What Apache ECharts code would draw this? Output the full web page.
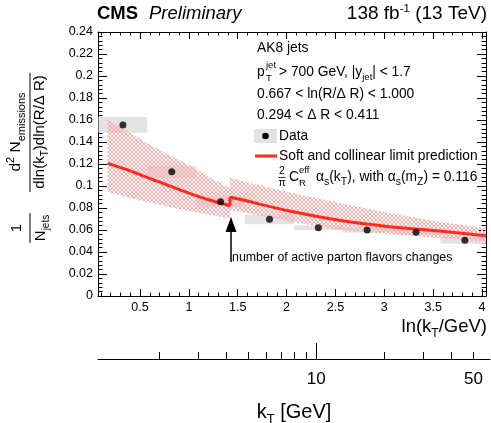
<!DOCTYPE html>
<html lang="en">
<head>
<meta charset="UTF-8">
<title>CMS Lund plane slice</title>
<script src="https://cdn.jsdelivr.net/npm/echarts@6.0.0/dist/echarts.min.js"></script>
<style>
    html, body { margin: 0; padding: 0; background: #fff; }
    #chart { width: 491px; height: 423px; }
</style>
</head>
<body>
<div id="chart"></div>
<script type="text/javascript">
// values
var binLo   = [0.075, 0.575, 1.075, 1.575, 2.075, 2.575, 3.075, 3.575];
var binHi   = [0.575, 1.075, 1.575, 2.075, 2.575, 3.075, 3.575, 4.075];
var dataX   = [0.325, 0.825, 1.325, 1.825, 2.325, 2.825, 3.325, 3.825];
var dataY   = [0.1555, 0.113, 0.0857, 0.0697, 0.0621, 0.0600, 0.0579, 0.0506];
var dataErr = [0.0072, 0.0055, 0.0050, 0.0045, 0.0020, 0.0023, 0.0023, 0.0030];

// prediction, below and above the flavour threshold
var predPreX  = [0.167, 0.4, 0.7, 1.0, 1.2, 1.42];
var predPreY  = [0.1206, 0.1138, 0.1035, 0.0935, 0.0875, 0.0821];
var bandPreLo = [0.0948, 0.0890, 0.0830, 0.0770, 0.0740, 0.0706];
var bandPreHi = [0.1606, 0.1480, 0.1325, 0.1190, 0.1085, 0.0980];

var predPostX  = [1.42, 1.52, 2.03, 2.54, 3.05, 3.56, 4.04];
var predPostY  = [0.0897, 0.0879, 0.0772, 0.0688, 0.0630, 0.0591, 0.0548];
var bandPostLo = [0.0780, 0.0767, 0.0680, 0.0600, 0.0563, 0.0527, 0.0494];
var bandPostHi = [0.1080, 0.1050, 0.0940, 0.0845, 0.0755, 0.0676, 0.0615];

// tick labels
var xMajorTicks = [0.5, 1, 1.5, 2, 2.5, 3, 3.5, 4];
var xMinorTicks = [0.1, 0.2, 0.3, 0.4, 0.6, 0.7, 0.8, 0.9,
                   1.1, 1.2, 1.3, 1.4, 1.6, 1.7, 1.8, 1.9,
                   2.1, 2.2, 2.3, 2.4, 2.6, 2.7, 2.8, 2.9,
                   3.1, 3.2, 3.3, 3.4, 3.6, 3.7, 3.8, 3.9, 4.0];
var yMajorTicks = [0, 0.02, 0.04, 0.06, 0.08, 0.1, 0.12, 0.14, 0.16, 0.18, 0.2, 0.22, 0.24];
var yMinorTicks = [0.004, 0.008, 0.012, 0.016, 0.024, 0.028, 0.032, 0.036,
                   0.044, 0.048, 0.052, 0.056, 0.064, 0.068, 0.072, 0.076,
                   0.084, 0.088, 0.092, 0.096, 0.104, 0.108, 0.112, 0.116,
                   0.124, 0.128, 0.132, 0.136, 0.144, 0.148, 0.152, 0.156,
                   0.164, 0.168, 0.172, 0.176, 0.184, 0.188, 0.192, 0.196,
                   0.204, 0.208, 0.212, 0.216, 0.224, 0.228, 0.232, 0.236];
var kTMinorTicks = [2, 3, 4, 5, 6, 7, 8, 9, 10, 20, 30, 40, 50];
var kTMajorTicks = [10];
var kTLabels = [10, 50];

var FONT = 'Liberation Sans';
var RED = '#ff2a1f';
var X_MIN = 0.07, X_MAX = 4.041, Y_MIN = 0, Y_MAX = 0.24;

var chart = echarts.init(document.getElementById('chart'));

// pink cross hatch for the prediction band
var hatch = document.createElement('canvas');
hatch.width = 4; hatch.height = 4;
var hc = hatch.getContext('2d');
hc.fillStyle = '#ffa9a9';
for (var i = 0; i < 4; i++) {
    hc.fillRect(i, i, 1, 1);
    hc.fillRect(3 - i, i, 1, 1);
}

function pairs(xs, ys) {
    return xs.map(function (x, i) { return [x, ys[i]]; });
}
var boxes = dataX.map(function (x, i) {
    return [binLo[i], binHi[i], dataY[i] + dataErr[i], dataY[i] - dataErr[i]];
});

function renderBox(params, api) {
    var p0 = api.coord([api.value(0), api.value(2)]);
    var p1 = api.coord([api.value(1), api.value(3)]);
    var rect = echarts.graphic.clipRectByRect(
        { x: p0[0], y: p0[1], width: p1[0] - p0[0], height: p1[1] - p0[1] },
        { x: params.coordSys.x, y: params.coordSys.y, width: params.coordSys.width, height: params.coordSys.height }
    );
    return rect && { type: 'rect', shape: rect, style: { fill: '#e3e3e3' } };
}

// band drawn as one polygon per segment
function bandSeries(xs, lo, hi) {
    return {
        type: 'custom', silent: true, z: 2,
        data: xs.map(function (x, i) { return [x, lo[i], hi[i]]; }),
        encode: { x: 0, y: [1, 2] },
        renderItem: function (params, api) {
            if (params.dataIndex !== 0) return;
            var pts = [];
            for (var i = 0; i < xs.length; i++) pts.push(api.coord([xs[i], hi[i]]));
            for (var j = xs.length - 1; j >= 0; j--) pts.push(api.coord([xs[j], lo[j]]));
            return { type: 'polygon', shape: { points: pts },
                     style: { fill: { image: hatch, repeat: 'repeat' } } };
        }
    };
}

function txt(x, y, text, size, opt) {
    opt = opt || {};
    return {
        type: 'text', x: x, y: y, rotation: opt.rot || 0, z: 10,
        style: {
            text: text, fontSize: size, fontFamily: FONT, fill: '#000',
            fontWeight: opt.bold ? 'bold' : 'normal',
            fontStyle: opt.italic ? 'italic' : 'normal',
            align: opt.align || 'left', verticalAlign: 'middle',
            rich: opt.rich
        }
    };
}
function line(x1, y1, x2, y2, w, color) {
    return { type: 'line', z: 10, shape: { x1: x1, y1: y1, x2: x2, y2: y2 },
             style: { stroke: color || '#000', lineWidth: w || 1 } };
}
function scripts(size, shift) {
    return {
        sub: { fontSize: size, fontFamily: FONT, padding: [shift, 0, 0, 0] },
        sup: { fontSize: size, fontFamily: FONT, padding: [0, 0, shift, 0] }
    };
}

var blackLine = { show: true, onZero: false, lineStyle: { color: '#000', width: 1 } };

// tick-only axes on overlay grids that sit exactly on the plot frame
function tickAxis(kind, grid, pos, vals, len) {
    var vertical = kind === 'y';
    return {
        type: 'value', gridIndex: grid, position: pos,
        min: vertical ? Y_MIN : X_MIN, max: vertical ? Y_MAX : X_MAX,
        axisLine: { show: false, onZero: false },
        axisTick: { show: true, inside: true, length: len, customValues: vals,
                    lineStyle: { color: '#000', width: 1 } },
        axisLabel: { show: false },
        splitLine: { show: false }
    };
}
function hiddenAxis(kind, grid) {
    var vertical = kind === 'y';
    return { type: 'value', gridIndex: grid, show: false,
             min: vertical ? Y_MIN : X_MIN, max: vertical ? Y_MAX : X_MAX };
}

var plotRect = { left: 98, top: 32, width: 388, height: 264 };

var option = {
    animation: false,
    backgroundColor: '#fff',
    grid: [
        plotRect,
        { left: 98, top: 300, width: 392, height: 59 },
        Object.assign({}, plotRect),
        Object.assign({}, plotRect)
    ],
    xAxis: [
        {
            type: 'value', gridIndex: 0, position: 'bottom', min: X_MIN, max: X_MAX,
            axisLine: blackLine, axisTick: { show: false }, splitLine: { show: false },
            axisLabel: { customValues: xMajorTicks, fontSize: 12.5,
                         fontFamily: FONT, color: '#000', margin: 5 }
        },
        {
            type: 'value', gridIndex: 0, position: 'top', min: X_MIN, max: X_MAX,
            axisLine: blackLine, axisTick: { show: false }, axisLabel: { show: false },
            splitLine: { show: false }
        },
        {
            type: 'value', gridIndex: 1, position: 'bottom', min: X_MIN, max: 4.081,
            axisLine: blackLine,
            axisTick: { show: true, inside: true, length: 7,
                        customValues: kTMinorTicks.map(Math.log),
                        lineStyle: { color: '#000' } },
            axisLabel: { show: false },
            splitLine: { show: false }
        },
        {
            type: 'value', gridIndex: 1, position: 'bottom', min: X_MIN, max: 4.081,
            axisLine: { show: false },
            axisTick: { show: true, inside: true, length: 16,
                        customValues: kTMajorTicks.map(Math.log),
                        lineStyle: { color: '#000' } },
            axisLabel: { show: true, customValues: kTLabels.map(Math.log),
                         formatter: function (v) { return Math.round(Math.exp(v)); },
                         fontSize: 17, fontFamily: FONT, color: '#000', margin: 12 },
            splitLine: { show: false }
        },
        tickAxis('x', 2, 'bottom', xMajorTicks, 7),
        tickAxis('x', 2, 'bottom', xMinorTicks, 3.5),
        tickAxis('x', 2, 'top', xMajorTicks, 7),
        tickAxis('x', 2, 'top', xMinorTicks, 3.5),
        hiddenAxis('x', 3)
    ],
    yAxis: [
        {
            type: 'value', gridIndex: 0, position: 'left', min: Y_MIN, max: Y_MAX,
            axisLine: blackLine, axisTick: { show: false }, splitLine: { show: false },
            axisLabel: { customValues: yMajorTicks, fontSize: 12.5,
                         fontFamily: FONT, color: '#000', margin: 5 }
        },
        {
            type: 'value', gridIndex: 0, position: 'right', min: Y_MIN, max: Y_MAX,
            axisLine: blackLine, axisTick: { show: false }, axisLabel: { show: false },
            splitLine: { show: false }
        },
        { type: 'value', gridIndex: 1, show: false, min: 0, max: 1 },
        hiddenAxis('y', 2),
        tickAxis('y', 3, 'left', yMajorTicks, 9),
        tickAxis('y', 3, 'left', yMinorTicks, 4.5),
        tickAxis('y', 3, 'right', yMajorTicks, 9),
        tickAxis('y', 3, 'right', yMinorTicks, 4.5)
    ],
    series: [
        {
            type: 'custom', renderItem: renderBox, data: boxes,
            encode: { x: [0, 1], y: [2, 3] }, z: 1, silent: true
        },
        bandSeries(predPreX, bandPreLo, bandPreHi),
        bandSeries(predPostX, bandPostLo, bandPostHi),
        {
            type: 'line', data: pairs(predPreX, predPreY), smooth: 0.3, symbol: 'none',
            lineStyle: { color: RED, width: 3 }, z: 3
        },
        {
            type: 'line', symbol: 'none', z: 3, lineStyle: { color: RED, width: 3 },
            data: [[predPreX[predPreX.length - 1], predPreY[predPreY.length - 1]],
                   [predPostX[0], predPostY[0]]]
        },
        {
            type: 'line', data: pairs(predPostX, predPostY), smooth: 0.3, symbol: 'none',
            lineStyle: { color: RED, width: 3 }, z: 3
        },
        {
            type: 'scatter', data: pairs(dataX, dataY), symbolSize: 7,
            itemStyle: { color: '#000' }, z: 4
        }
    ],
    graphic: [
        // header
        txt(97, 14, 'CMS', 18.5, { bold: true }),
        txt(149, 14, 'Preliminary', 18.5, { italic: true }),
        txt(487, 14, '138 fb{sup|-1} (13 TeV)', 19, { align: 'right', rich: scripts(11.5, 11) }),

        // selection text
        txt(257, 48, 'AK8 jets', 13.8),
        txt(257, 72, 'p', 13.8),
        txt(266, 65, 'jet', 9.5),
        txt(266, 78, 'T', 9.5),
        txt(279, 72, '> 700 GeV, |y{sub|jet}| < 1.7', 13.8, { rich: scripts(9.5, 10) }),
        txt(257, 94, '0.667 < ln(R/\u0394 R) < 1.000', 13.8),
        txt(257, 115, '0.294 < \u0394 R < 0.411', 13.8),

        // legend
        { type: 'rect', z: 9, shape: { x: 254, y: 129, width: 23, height: 14 }, style: { fill: '#e3e3e3' } },
        { type: 'circle', z: 10, shape: { cx: 265.5, cy: 136, r: 3.3 }, style: { fill: '#000' } },
        txt(279, 136, 'Data', 13.8),
        line(255, 156, 277, 156, 3, RED),
        txt(279, 156, 'Soft and collinear limit prediction', 13.8),
        txt(282, 171, '2', 10.5, { align: 'center' }),
        line(278.5, 177.5, 285.5, 177.5, 0.8),
        txt(282, 183, '\u03c0', 10.5, { align: 'center' }),
        txt(289, 177, 'C', 13.8),
        txt(299, 170, 'eff', 9.5),
        txt(299, 183, 'R', 9.5),
        txt(316, 177, '\u03b1{sub|s}(k{sub|T}), with \u03b1{sub|s}(m{sub|Z}) = 0.116', 13.8,
            { rich: scripts(10.5, 10) }),

        // threshold arrow
        line(231, 262, 231, 228, 1.5),
        { type: 'polygon', z: 10, shape: { points: [[231, 217], [225.5, 232], [236.5, 232]] },
          style: { fill: '#000' } },
        txt(232, 257.5, 'number of active parton flavors changes', 12.4),

        // axis titles
        txt(487, 327, 'ln(k{sub|T}/GeV)', 18.5, { align: 'right', rich: scripts(12, 13) }),
        txt(294, 412, 'k{sub|T} [GeV]', 20, { align: 'center', rich: scripts(13, 14) }),

        // y title, rotated fraction
        txt(16, 132, 'd{sup|2} N{sub|emissions}', 15.5, { align: 'center', rot: Math.PI / 2,
            rich: scripts(11, 11) }),
        line(30, 73, 30, 192, 1),
        txt(40, 132, 'dln(k{sub|T})dln(R/\u0394 R)', 15, { align: 'center', rot: Math.PI / 2,
            rich: scripts(10, 11) }),
        txt(17, 228, '1', 15, { align: 'center', rot: Math.PI / 2 }),
        line(30, 213, 30, 243, 1),
        txt(41, 228, 'N{sub|jets}', 15, { align: 'center', rot: Math.PI / 2,
            rich: scripts(10, 11) })
    ]
};

chart.setOption(option);
</script>
</body>
</html>
